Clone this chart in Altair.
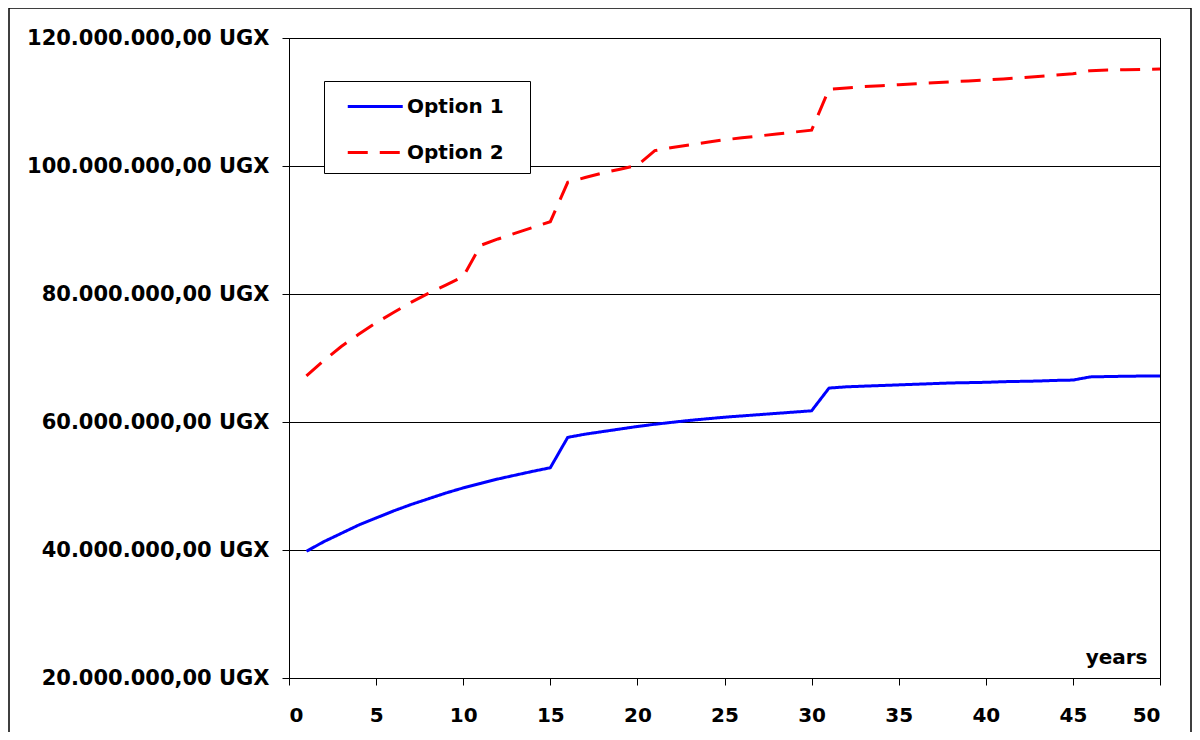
import altair as alt
import pandas as pd

years = list(range(1, 51))

option1_m = [39.8, 41.3, 42.6, 43.9, 45.0, 46.1, 47.1, 48.0, 48.9, 49.7,
             50.4, 51.1, 51.7, 52.3, 52.85, 57.6, 58.1, 58.5, 58.9, 59.3,
             59.65, 59.95, 60.25, 60.5, 60.75, 60.95, 61.15, 61.35, 61.55, 61.75,
             65.3, 65.5, 65.6, 65.7, 65.8, 65.9, 66.0, 66.1, 66.15, 66.2,
             66.3, 66.35, 66.4, 66.5, 66.55, 67.05, 67.1, 67.15, 67.18, 67.2]

option2_m = [67.2, 69.6, 71.8, 73.7, 75.5, 77.1, 78.7, 80.1, 81.4, 82.7,
             87.6, 88.6, 89.5, 90.4, 91.3, 97.45, 98.2, 98.9, 99.5, 100.1,
             102.4, 102.9, 103.3, 103.7, 104.1, 104.4, 104.7, 105.0, 105.3, 105.6,
             112.0, 112.2, 112.4, 112.55, 112.7, 112.85, 113.0, 113.15, 113.3, 113.45,
             113.6, 113.8, 114.0, 114.2, 114.4, 114.9, 115.0, 115.05, 115.1, 115.15]

series_names = ["Option 1", "Option 2"]
x_ticks = list(range(0, 51, 5))
y_ticks = [20e6, 40e6, 60e6, 80e6, 100e6, 120e6]

rows = []
for name, vals in zip(series_names, [option1_m, option2_m]):
    for yr, v in zip(years, vals):
        rows.append({"year": yr, "value": v * 1e6, "series": name})
df = pd.DataFrame(rows)

FONT = "DejaVu Sans"

lines = alt.Chart(df).mark_line(strokeWidth=3, clip=True).encode(
    x=alt.X("year:Q",
            scale=alt.Scale(domain=[0, 50], nice=False),
            axis=alt.Axis(values=x_ticks, title="years", grid=False,
                          labelFont=FONT, labelFontWeight="bold", labelFontSize=20,
                          labelColor="black", labelPadding=20,
                          tickColor="black", tickSize=7, domainColor="black",
                          titleFont=FONT, titleFontWeight="bold", titleFontSize=20,
                          titleColor="black", titleAnchor="end", titleAlign="right",
                          titleBaseline="alphabetic", titleX=858, titleY=-15)),
    y=alt.Y("value:Q",
            scale=alt.Scale(domain=[20e6, 120e6], nice=False),
            axis=alt.Axis(values=y_ticks, title=None,
                          labelExpr="format(datum.value/1000000, 'd') + '.000.000,00 UGX'",
                          labelFont=FONT, labelFontWeight="bold", labelFontSize=21,
                          labelColor="black", labelPadding=13, labelLimit=0,
                          tickColor="black", tickSize=7, domainColor="black",
                          grid=True, gridColor="black", gridWidth=1, gridOpacity=1)),
    color=alt.Color("series:N",
                    scale=alt.Scale(domain=series_names, range=["#0000FF", "#FF0000"]),
                    legend=alt.Legend(title=None, orient="none", legendX=35, legendY=43,
                                      fillColor="white", strokeColor="black",
                                      padding=10,
                                      symbolType="M-0.127,0H3.873",
                                      symbolSize=756, symbolStrokeWidth=3,
                                      labelFont=FONT, labelFontWeight="bold",
                                      labelFontSize=20, labelColor="black",
                                      labelExpr="datum.label + '\u2800'",
                                      labelOffset=42, rowPadding=20, labelLimit=0)),
    strokeDash=alt.StrokeDash("series:N",
                              scale=alt.Scale(domain=series_names,
                                              range=[[1, 0], [20, 12]]),
                              legend=None),
)

frame = alt.Chart(pd.DataFrame({"f": [0]})).mark_rect(
    fillOpacity=0, stroke="black", strokeWidth=1.5, clip=False
).encode(
    x=alt.value(-280),
    x2=alt.value(902),
    y=alt.value(-30),
    y2=alt.value(700),
)

chart = alt.layer(lines, frame).properties(
    width=871, height=640,
    padding={"left": 281, "top": 30, "right": 32, "bottom": 54},
    autosize=alt.AutoSizeParams(type="none"),
).configure_view(stroke="black", strokeWidth=1)

chart.save("out.html", embed_options={"renderer": "svg", "actions": False})
